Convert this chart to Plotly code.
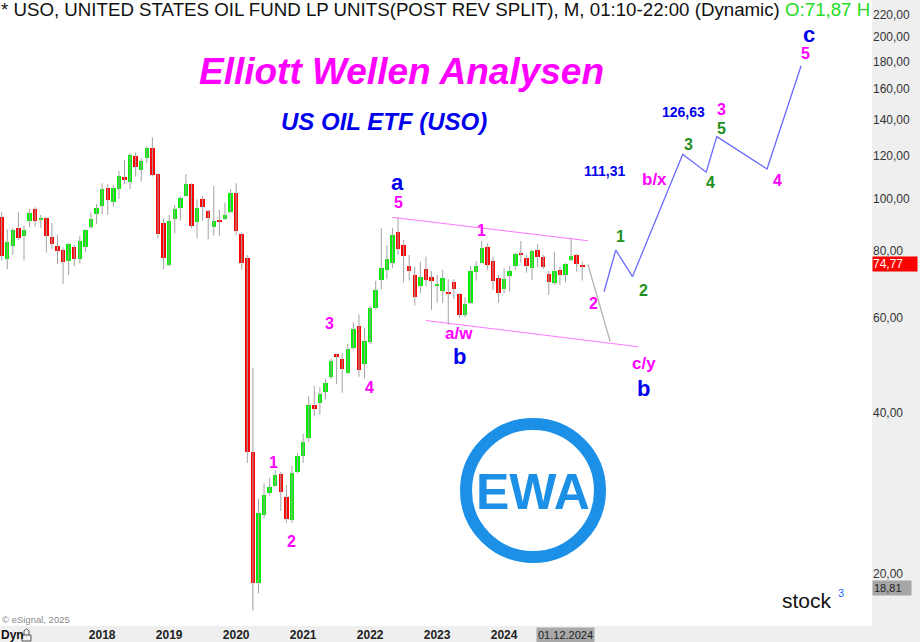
import math
import plotly.graph_objects as go

FONT = "Liberation Sans, Arial, Helvetica, sans-serif"

# ---------------- data (monthly candles, USO post reverse split) ----------------
months = [
    "2016-07", "2016-08", "2016-09", "2016-10", "2016-11", "2016-12",
    "2017-01", "2017-02", "2017-03", "2017-04", "2017-05", "2017-06",
    "2017-07", "2017-08", "2017-09", "2017-10", "2017-11", "2017-12",
    "2018-01", "2018-02", "2018-03", "2018-04", "2018-05", "2018-06",
    "2018-07", "2018-08", "2018-09", "2018-10", "2018-11", "2018-12",
    "2019-01", "2019-02", "2019-03", "2019-04", "2019-05", "2019-06",
    "2019-07", "2019-08", "2019-09", "2019-10", "2019-11", "2019-12",
    "2020-01", "2020-02", "2020-03", "2020-04", "2020-05", "2020-06",
    "2020-07", "2020-08", "2020-09", "2020-10", "2020-11", "2020-12",
    "2021-01", "2021-02", "2021-03", "2021-04", "2021-05", "2021-06",
    "2021-07", "2021-08", "2021-09", "2021-10", "2021-11", "2021-12",
    "2022-01", "2022-02", "2022-03", "2022-04", "2022-05", "2022-06",
    "2022-07", "2022-08", "2022-09", "2022-10", "2022-11", "2022-12",
    "2023-01", "2023-02", "2023-03", "2023-04", "2023-05", "2023-06",
    "2023-07", "2023-08", "2023-09", "2023-10", "2023-11", "2023-12",
    "2024-01", "2024-02", "2024-03", "2024-04", "2024-05", "2024-06",
    "2024-07", "2024-08", "2024-09", "2024-10", "2024-11", "2024-12",
    "2025-01", "2025-02", "2025-03",
]
opens = [
    92.3, 77.1, 81.8, 88.3, 85.2, 91.0,
    95.7, 91.5, 92.2, 85.0, 81.6, 80.3,
    76.7, 81.4, 77.2, 81.4, 88.5, 93.5,
    96.9, 104.6, 98.5, 104.2, 109.6, 107.6,
    120.1, 113.0, 119.2, 124.1, 111.0, 90.2,
    75.3, 91.5, 96.0, 101.3, 106.5, 90.6,
    99.7, 95.0, 88.7, 91.4, 91.7, 94.6,
    102.6, 86.0, 77.5, 33.8, 19.2, 25.8,
    28.3, 29.2, 30.7, 27.8, 25.2, 31.0,
    33.1, 35.9, 41.3, 41.6, 43.7, 46.6,
    51.3, 50.3, 47.4, 52.8, 57.9, 49.2,
    54.0, 62.5, 70.6, 73.7, 75.8, 86.6,
    82.1, 74.9, 72.2, 68.9, 73.9, 71.6,
    68.9, 67.4, 67.1, 69.9, 66.4, 60.7,
    63.9, 73.1, 76.0, 81.2, 76.7, 71.1,
    67.8, 71.9, 75.0, 79.1, 77.5, 74.2,
    80.3, 78.0, 72.3, 69.6, 73.7, 72.1,
    76.9, 78.6, 75.3,
]
highs = [
    94.6, 87.7, 88.3, 94.3, 89.1, 95.7,
    96.4, 93.3, 92.5, 90.1, 85.7, 81.2,
    82.8, 82.0, 85.3, 87.7, 94.3, 97.8,
    106.8, 106.4, 106.1, 112.6, 118.1, 121.5,
    122.0, 118.9, 125.4, 130.1, 111.5, 91.9,
    93.3, 97.3, 101.2, 111.2, 106.8, 99.7,
    101.2, 95.3, 105.6, 95.3, 98.3, 104.2,
    106.8, 86.5, 78.5, 48.4, 27.6, 29.5,
    30.2, 31.2, 31.0, 29.3, 31.8, 33.6,
    36.5, 42.9, 44.8, 44.6, 46.2, 50.4,
    51.5, 51.5, 53.6, 58.8, 60.9, 57.4,
    63.1, 70.3, 88.1, 82.0, 88.3, 92.3,
    83.8, 78.6, 74.7, 76.3, 78.0, 73.3,
    72.1, 73.7, 70.8, 70.8, 66.7, 65.5,
    74.9, 76.6, 83.5, 82.6, 78.0, 72.1,
    74.2, 74.9, 79.3, 83.4, 78.6, 80.3,
    82.2, 78.6, 73.4, 79.7, 74.7, 75.8,
    84.6, 78.9, 76.3,
]
lows = [
    76.7, 73.9, 78.6, 83.8, 76.7, 88.5,
    88.7, 88.3, 79.3, 80.5, 75.6, 69.4,
    72.1, 74.9, 75.8, 79.5, 88.0, 89.7,
    93.5, 93.3, 96.6, 99.9, 106.5, 104.2,
    109.9, 107.6, 116.4, 110.0, 84.4, 73.9,
    74.8, 86.2, 91.0, 100.9, 88.1, 84.4,
    91.0, 84.1, 85.3, 85.3, 91.3, 94.0,
    85.6, 73.7, 32.2, 17.1, 18.4, 25.4,
    28.0, 29.1, 26.2, 24.9, 24.9, 30.8,
    32.2, 35.3, 39.3, 39.6, 42.3, 46.1,
    45.2, 43.5, 47.2, 52.3, 46.6, 46.3,
    53.6, 62.2, 67.8, 70.8, 74.2, 78.6,
    69.8, 70.4, 63.3, 66.7, 68.6, 62.1,
    64.0, 63.9, 58.2, 65.0, 59.9, 60.1,
    63.6, 70.4, 75.8, 73.7, 67.6, 64.0,
    66.7, 67.1, 73.7, 75.8, 72.8, 70.6,
    74.5, 73.9, 66.2, 69.1, 69.1, 69.8,
    76.5, 73.1, 70.4,
]
closes = [
    78.2, 83.2, 87.4, 84.4, 87.4, 93.9,
    91.0, 91.8, 85.2, 82.2, 80.0, 76.1,
    82.3, 77.2, 83.4, 87.4, 91.8, 96.2,
    104.1, 99.4, 104.6, 110.4, 108.7, 120.6,
    114.6, 117.6, 124.1, 110.7, 86.1, 77.5,
    91.0, 95.7, 100.2, 106.5, 89.0, 96.2,
    96.4, 91.9, 90.9, 90.6, 93.3, 102.6,
    87.2, 76.0, 33.8, 19.2, 26.0, 28.1,
    29.1, 30.6, 28.4, 25.3, 30.9, 33.1,
    35.2, 41.3, 40.6, 43.3, 45.4, 49.9,
    50.9, 48.2, 52.5, 57.2, 48.0, 54.3,
    62.7, 67.6, 74.2, 77.1, 85.5, 80.6,
    78.3, 73.4, 65.5, 71.4, 70.6, 70.4,
    69.3, 71.3, 66.7, 67.8, 60.7, 63.6,
    73.3, 75.0, 80.8, 75.3, 70.4, 66.8,
    70.9, 73.3, 78.9, 78.6, 75.0, 79.9,
    78.0, 74.7, 69.9, 73.3, 72.1, 75.6,
    78.2, 75.6, 74.77,
]

year_labels = ["2018", "2019", "2020", "2021", "2022", "2023", "2024"]
price_ticks = [20, 40, 60, 80, 100, 120, 140, 160, 180, 200, 220]
last_price = 74.77
range_low = 18.81

# projected Elliott wave paths (month, price)
proj_months = ["2025-06.9", "2025-09.0", "2025-12.0", "2026-09.0", "2027-01.2", "2027-03.1", "2027-12.1", "2028-06.2"]
proj_prices = [67.1, 80.2, 71.6, 121.0, 112.0, 130.5, 113.6, 176.9]
alt_months = ["2025-04.0", "2025-08.0"]
alt_prices = [75.5, 54.2]
upper_months = ["2022-05.0", "2025-04.0"]
upper_prices = [92.3, 83.5]
lower_months = ["2022-11.0", "2026-01.0"]
lower_prices = [59.3, 53.0]

# wave labels: text, month, price, colour, size
MAG, BLUE, GREEN = "#ff00ff", "#0000ee", "#1f8f1f"
wave_labels = [
    ("1", "2020-07.65", 32.2, MAG, 16),
    ("2", "2020-10.94", 23.0, MAG, 16),
    ("3", "2021-05.8", 58.6, MAG, 16),
    ("4", "2021-12.97", 44.5, MAG, 16),
    ("5", "2022-06.0", 98.4, MAG, 16),
    ("a", "2022-05.9", 107.4, BLUE, 22),
    ("1", "2023-08.97", 87.2, MAG, 16),
    ("a/w", "2023-04.9", 56.0, MAG, 17),
    ("b", "2023-05.0", 50.8, BLUE, 22),
    ("2", "2025-05.0", 63.8, MAG, 16),
    ("c/y", "2026-02.0", 49.4, MAG, 17),
    ("b", "2026-01.9", 44.4, BLUE, 22),
    ("1", "2025-09.9", 85.2, GREEN, 16),
    ("2", "2026-01.9", 67.4, GREEN, 16),
    ("3", "2026-10.0", 126.3, GREEN, 16),
    ("4", "2027-02.05", 107.1, GREEN, 16),
    ("5", "2027-03.96", 135.2, GREEN, 16),
    ("3", "2027-04.0", 146.7, MAG, 16),
    ("4", "2028-02.0", 107.9, MAG, 16),
    ("5", "2028-07.0", 186.5, MAG, 16),
    ("c", "2028-07.65", 201.8, BLUE, 22),
    ("b/x", "2026-04.0", 108.7, MAG, 17),
    ("126,63", "2026-09.1", 144.8, BLUE, 14),
    ("111,31", "2025-06.9", 112.8, BLUE, 14),
]


def midx(m):
    """month string 'YYYY-MM' or 'YYYY-MM.f' -> month index (Jan 2016 = 0)"""
    y, mo = m.split("-")
    return (int(y) - 2016) * 12 + float(mo) - 1


def fmt(v):
    return f"{v:.2f}".replace(".", ",")


x = [midx(m) for m in months]

fig = go.Figure()

# wicks
wx, wy = [], []
for xi, h, l in zip(x, highs, lows):
    wx += [xi, xi, None]
    wy += [l, h, None]
fig.add_trace(go.Scatter(x=wx, y=wy, mode="lines", line=dict(color="#a3a3a3", width=1),
                         hoverinfo="skip", showlegend=False))

# bodies
for up, col in [(True, "#00ee00"), (False, "#ff0000")]:
    bx, bb, bh = [], [], []
    for xi, o, c in zip(x, opens, closes):
        if (c >= o) == up:
            lo, hi = min(o, c), max(o, c)
            if hi - lo < lo * 0.006:
                hi = lo * 1.006
            bx.append(xi)
            bb.append(lo)
            bh.append(hi - lo)
    fig.add_trace(go.Bar(x=bx, y=bh, base=bb, width=0.8, marker=dict(color=col, line=dict(width=0)),
                         hoverinfo="skip", showlegend=False))

# channel and projections
fig.add_trace(go.Scatter(x=[midx(m) for m in upper_months], y=upper_prices, mode="lines",
                         line=dict(color="#ff77ff", width=1), showlegend=False, hoverinfo="skip"))
fig.add_trace(go.Scatter(x=[midx(m) for m in lower_months], y=lower_prices, mode="lines",
                         line=dict(color="#ff77ff", width=1), showlegend=False, hoverinfo="skip"))
fig.add_trace(go.Scatter(x=[midx(m) for m in alt_months], y=alt_prices, mode="lines",
                         line=dict(color="#b4b4b4", width=1.3), showlegend=False, hoverinfo="skip"))
fig.add_trace(go.Scatter(x=[midx(m) for m in proj_months], y=proj_prices, mode="lines",
                         line=dict(color="#6a6aff", width=1.3), showlegend=False, hoverinfo="skip"))

ann = []
for t, m, p, col, s in wave_labels:
    ann.append(dict(x=midx(m), y=math.log10(p), xref="x", yref="y", text=f"<b>{t}</b>",
                    showarrow=False, xanchor="center", yanchor="middle",
                    font=dict(family=FONT, size=s, color=col)))

W_PLOT, H_PLOT = 872.0, 626.0


def px(xp):
    return xp / W_PLOT


def py(yp):
    return 1 - yp / H_PLOT


def note(xp, yp, text, size, color, xanchor="center", **kw):
    d = dict(x=px(xp), y=py(yp), xref="paper", yref="paper", showarrow=False,
             xanchor=xanchor, yanchor="middle", text=text,
             font=dict(family=FONT, size=size, color=color))
    d.update(kw)
    return d


# header
ann.append(note(0, 10, "* USO, UNITED STATES OIL FUND LP UNITS(POST REV SPLIT), M, 01:10-22:00 (Dynamic) "
                       "<span style='color:#22dd22'>O:71,87 H</span>", 18.7, "#111111",
                xanchor="left", borderpad=0))
ann.append(note(401, 72, "<b><i>Elliott Wellen Analysen</i></b>", 37, MAG))
ann.append(note(384, 121, "<b><i>US OIL ETF (USO)</i></b>", 24, BLUE))
# EWA logo
EWA = "#1c8fe6"
ann.append(note(533, 492, "<b>EWA</b>", 50, EWA))
# stock3 logo
ann.append(note(834, 600, "stock", 21, "#111111", xanchor="right"))
ann.append(note(836, 593, "3", 11, "#1f6fff", xanchor="left"))
# copyright
ann.append(note(0, 619, "© eSignal, 2025", 9.5, "#8a8a8a", xanchor="left"))
# bottom-left Dyn
ann.append(note(-1, 635, "<b>Dyn</b>", 12, "#111111", xanchor="left"))
# date box
ann.append(note(565.5, 635, "01.12.2024", 11, "#222222", bgcolor="#a9a9a9", borderpad=1))
# last price & low boxes on axis
ann.append(dict(x=1, y=math.log10(last_price), xref="paper", yref="y", showarrow=False,
                xanchor="left", yanchor="middle", yshift=2, text=fmt(last_price), bgcolor="#ff0000",
                width=44, align="left", borderpad=0, font=dict(family=FONT, size=12, color="white")))
ann.append(dict(x=1, y=math.log10(range_low), xref="paper", yref="y", showarrow=False,
                xanchor="left", yanchor="middle", text=fmt(range_low), bgcolor="#a6a6a6", width=36,
                align="left", borderpad=1, font=dict(family=FONT, size=11, color="#222222")))

shapes = [
    dict(type="circle", xref="paper", yref="paper", x0=px(466), x1=px(600), y0=py(557), y1=py(424),
         line=dict(color=EWA, width=12)),
    # small padlock next to "Dyn"
    dict(type="rect", xref="paper", yref="paper", x0=px(22), x1=px(31), y0=py(641), y1=py(635),
         line=dict(color="#555555", width=1), fillcolor="rgba(0,0,0,0)"),
    dict(type="path", xref="paper", yref="paper",
         path=f"M {px(24)} {py(635)} L {px(24)} {py(631)} Q {px(26.5)} {py(627)} {px(29)} {py(631)} L {px(29)} {py(635)}",
         line=dict(color="#555555", width=1)),
]

fig.update_layout(
    width=920, height=642,
    margin=dict(l=0, r=48, t=0, b=16),
    paper_bgcolor="#efefef", plot_bgcolor="white",
    barmode="overlay", bargap=0,
    showlegend=False,
    annotations=ann, shapes=shapes,
    font=dict(family=FONT),
    xaxis=dict(range=[5.70, 161.9], tickvals=[midx(y + "-01") for y in year_labels],
               ticktext=[f"<b>{y}</b>" for y in year_labels], showgrid=False, zeroline=False,
               ticks="", showline=False, tickfont=dict(family=FONT, size=12, color="#222222")),
    yaxis=dict(type="log", range=[math.log10(16.0), math.log10(234.45)], side="right",
               tickvals=price_ticks, ticktext=[fmt(v) for v in price_ticks], showgrid=False,
               zeroline=False, ticks="", showline=False,
               tickfont=dict(family=FONT, size=12, color="#333333")),
)

fig.write_html("out.html", config={"displayModeBar": False},
               post_script="document.body.style.margin='0';document.body.style.overflow='hidden';")
